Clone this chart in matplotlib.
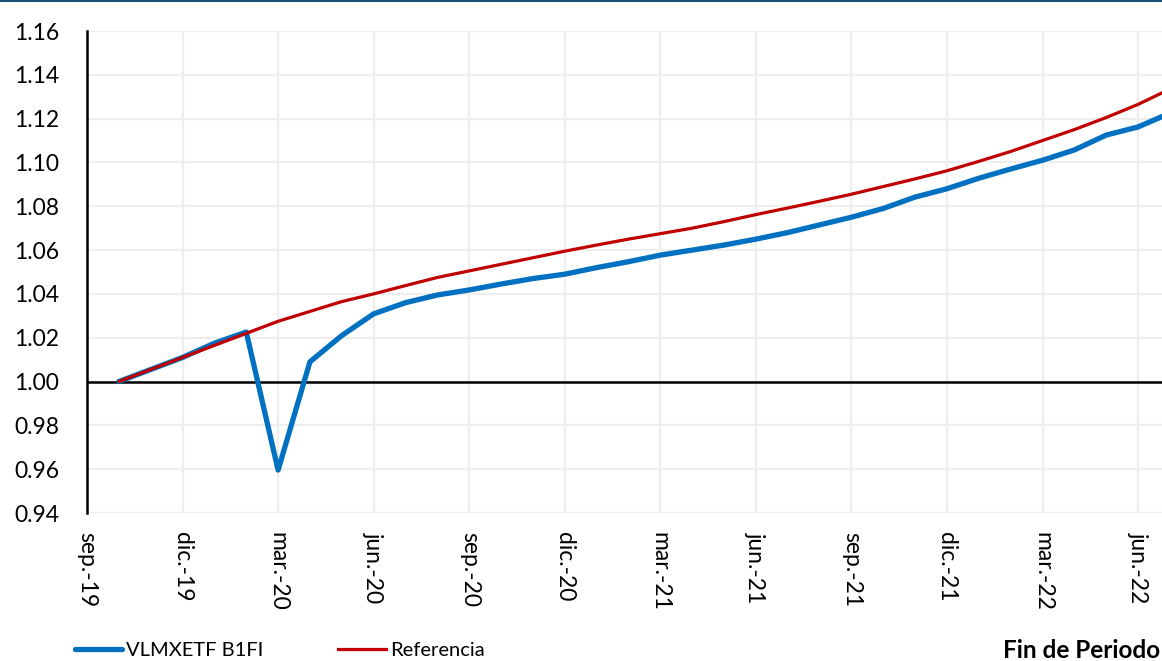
import matplotlib
matplotlib.use("Agg")
import matplotlib.pyplot as plt
from matplotlib.lines import Line2D

plt.rcParams['font.family'] = ['Lato', 'DejaVu Sans']

# month index: 0 = sep-19
months = list(range(1, 35))
vlmx = [1.000, 1.0055, 1.011, 1.0175, 1.0226, 0.9596, 1.009, 1.021, 1.0309, 1.036,
        1.0395, 1.0418, 1.0445, 1.047, 1.049, 1.052, 1.0547, 1.0577, 1.060, 1.0623,
        1.065, 1.068, 1.0715, 1.075, 1.079, 1.0842, 1.088, 1.0928, 1.097, 1.101,
        1.1057, 1.1125, 1.1162, 1.1225]
referencia = [1.000, 1.0055, 1.011, 1.0165, 1.022, 1.0275, 1.032, 1.0365, 1.040, 1.0438,
              1.0475, 1.0505, 1.0535, 1.0565, 1.0595, 1.0623, 1.065, 1.0675, 1.070, 1.073,
              1.0762, 1.0792, 1.0823, 1.0855, 1.089, 1.0925, 1.0962, 1.1005, 1.105, 1.110,
              1.115, 1.1205, 1.1265, 1.1335]
tick_pos = [0, 3, 6, 9, 12, 15, 18, 21, 24, 27, 30, 33]
tick_labels = ['sep.-19', 'dic.-19', 'mar.-20', 'jun.-20', 'sep.-20', 'dic.-20',
               'mar.-21', 'jun.-21', 'sep.-21', 'dic.-21', 'mar.-22', 'jun.-22']
y_ticks = [0.94, 0.96, 0.98, 1.00, 1.02, 1.04, 1.06, 1.08, 1.10, 1.12, 1.14, 1.16]

W, H = 1162, 661
fig = plt.figure(figsize=(W / 100, H / 100), dpi=100)
ax = fig.add_axes([87 / W, (H - 513) / H, (W - 87) / W, (513 - 31) / H])

ax.set_xlim(0, (W - 87) / 31.85)
ax.set_ylim(0.94, 1.16)
ax.set_yticks(y_ticks)
ax.set_yticklabels([f"{v:.2f}" for v in y_ticks], fontsize=16.5)
ax.set_xticks(tick_pos)
ax.set_xticklabels(tick_labels, rotation=-90, fontsize=16.5, va='top', ha='center')
ax.tick_params(axis='both', length=0)
ax.tick_params(axis='y', pad=20)
ax.tick_params(axis='x', pad=14)

ax.grid(True, color='#EEEEEE', linewidth=1.6)
ax.set_axisbelow(True)
for s in ['top', 'right', 'bottom']:
    ax.spines[s].set_visible(False)
ax.spines['left'].set_color('black')
ax.spines['left'].set_linewidth(1.8)
ax.axhline(1.0, color='black', linewidth=1.8, zorder=2)

ax.plot(months, vlmx, color='#0070C0', linewidth=3.8, zorder=3, solid_capstyle='round')
ax.plot(months, referencia, color='#C00000', linewidth=2.3, zorder=4, solid_capstyle='round')

# top border line
fig.add_artist(Line2D([0, 1], [1 - 1 / H, 1 - 1 / H], transform=fig.transFigure,
                      color='#1F4E79', linewidth=1.5))

handles = [Line2D([], [], color='#0070C0', linewidth=3.8, solid_capstyle='round'),
           Line2D([], [], color='#C00000', linewidth=2.3)]
fig.legend(handles, ['VLMXETF B1FI', 'Referencia'], loc='center left',
           bbox_to_anchor=(67 / W, 1 - 650 / H), ncol=2, frameon=False,
           fontsize=14.5, handlelength=2.35, handletextpad=0.2, columnspacing=3.7,
           borderaxespad=0)
fig.text(1160 / W, 1 - 650 / H, 'Fin de Periodo', fontsize=17.5, fontweight='bold',
         ha='right', va='center')

fig.savefig('out.png', dpi=100)
